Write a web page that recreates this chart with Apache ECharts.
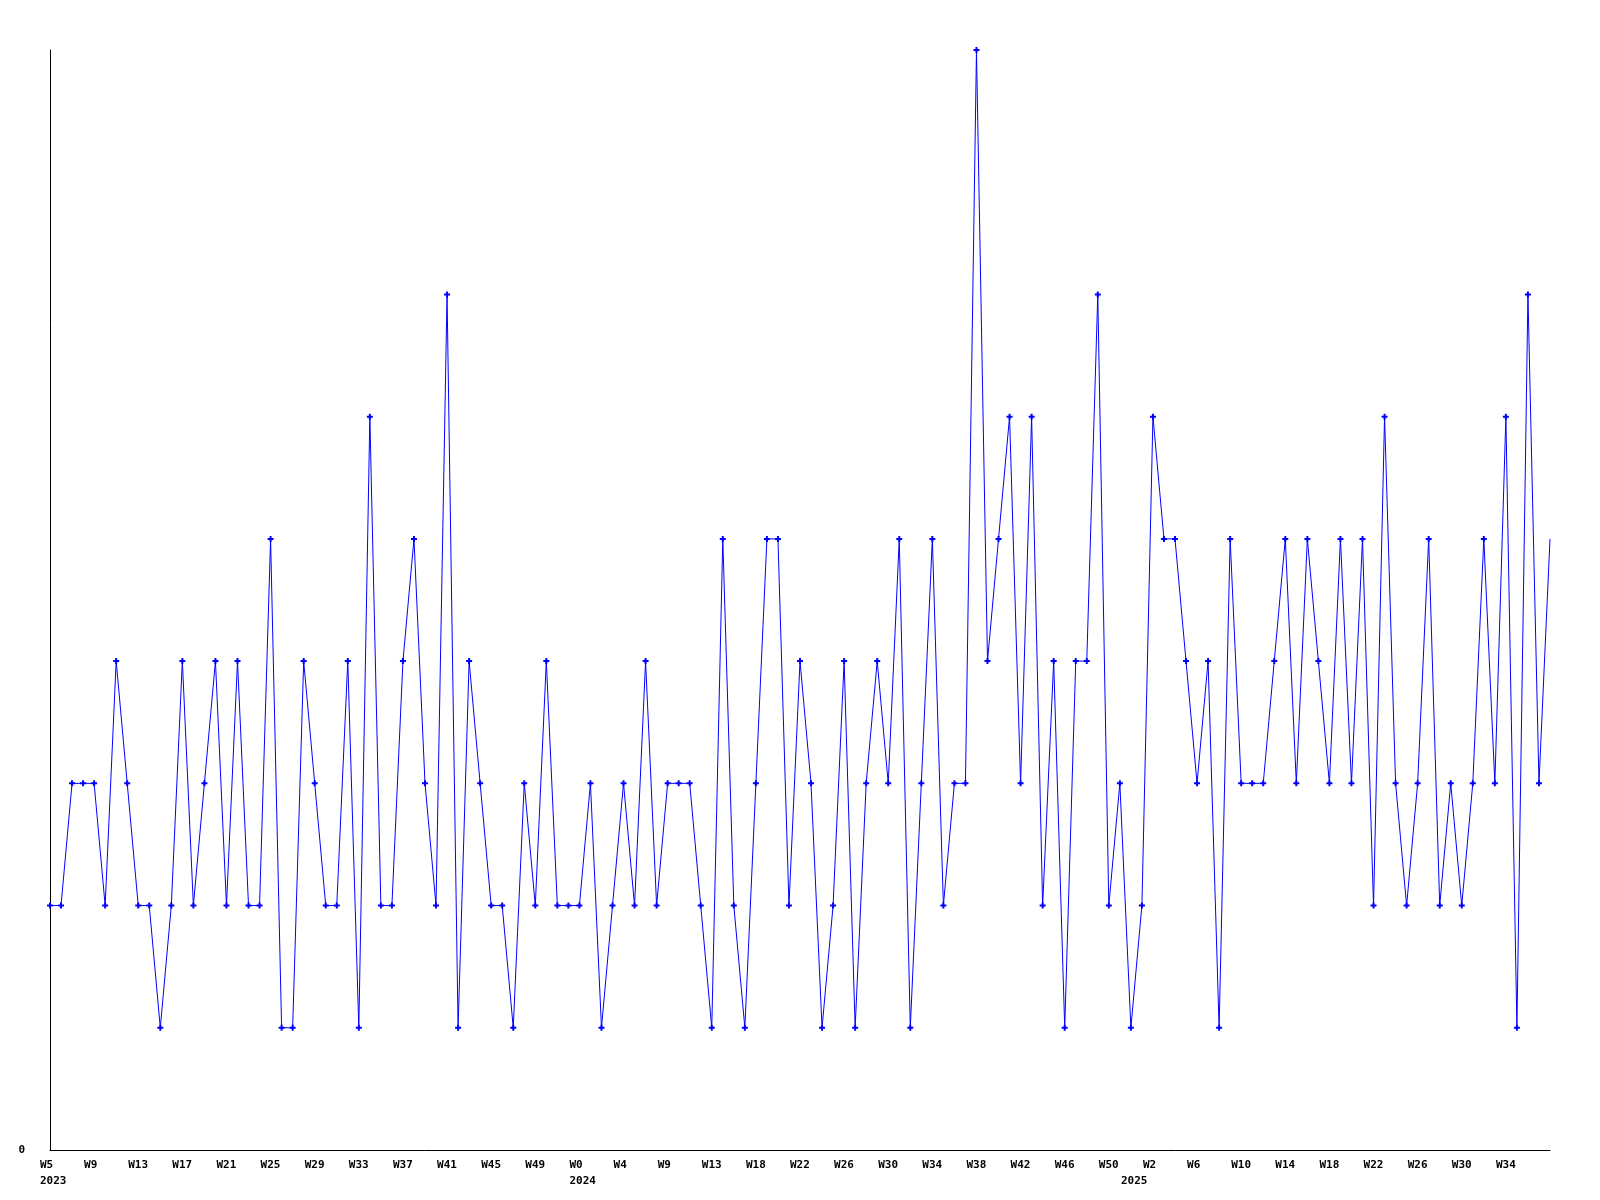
<!DOCTYPE html>
<html>
<head>
<meta charset="utf-8">
<script src="https://cdn.jsdelivr.net/npm/echarts@6/dist/echarts.min.js"></script>
<style>
html,body{margin:0;padding:0;background:#fff;}
#chart{width:1600px;height:1200px;}
</style>
</head>
<body>
<div id="chart"></div>
<script>
// Weekly values, 2023 W5 onward (137 points)
const values = [
  2,2,3,3,3,2,4,3,2,2,
  1,2,4,2,3,4,2,4,2,2,
  5,1,1,4,3,2,2,4,1,6,
  2,2,4,5,3,2,7,1,4,3,
  2,2,1,3,2,4,2,2,2,3,
  1,2,3,2,4,2,3,3,3,2,
  1,5,2,1,3,5,5,2,4,3,
  1,2,4,1,3,4,3,5,1,3,
  5,2,3,3,9,4,5,6,3,6,
  2,4,1,4,4,7,2,3,1,2,
  6,5,5,4,3,4,1,5,3,3,
  3,4,5,3,5,4,3,5,3,5,
  2,6,3,2,3,5,2,3,2,3,
  5,3,6,1,7,3,5
];
// Tick labels shown on every 4th point
const tickLabels = [
  "W5","W9","W13","W17","W21","W25","W29","W33","W37","W41","W45","W49",
  "W0","W4","W9","W13","W18","W22","W26","W30","W34","W38","W42","W46","W50",
  "W2","W6","W10","W14","W18","W22","W26","W30","W34"
];
// Year labels placed at the point where each year starts (point index)
const yearLabels = {0: "2023", 48: "2024", 98: "2025"};
const yMax = 9;

const categories = values.map((_, i) => String(i));
const seriesData = values.map((v, i) => i === values.length - 1 ? {value: v, symbol: 'none'} : v);

const chart = echarts.init(document.getElementById('chart'), null, {renderer: 'canvas'});
const font = '"DejaVu Sans Mono", monospace';
chart.setOption({
  animation: false,
  backgroundColor: '#ffffff',
  grid: {left: 50, right: 50, top: 50, bottom: 50, containLabel: false},
  xAxis: {
    type: 'category',
    data: categories,
    boundaryGap: false,
    axisLine: {show: true, lineStyle: {color: '#000', width: 1}},
    axisTick: {show: false},
    splitLine: {show: false},
    axisLabel: {
      interval: function (idx) { return idx % 4 === 0 || yearLabels[idx] !== undefined; },
      margin: 7,
      align: 'left',
      padding: [0, 0, 0, -10],
      color: '#000',
      fontFamily: font,
      fontWeight: 'bold',
      fontSize: 11,
      lineHeight: 16,
      formatter: function (val, idx) {
        const lab = idx % 4 === 0 ? (tickLabels[idx / 4] || '') : ' ';
        return yearLabels[idx] ? lab + '\n' + yearLabels[idx] : lab;
      }
    }
  },
  yAxis: {
    type: 'value',
    min: 0,
    max: yMax,
    interval: yMax,
    axisLine: {show: true, lineStyle: {color: '#000', width: 1}},
    axisTick: {show: false},
    splitLine: {show: false},
    axisLabel: {
      margin: 25,
      color: '#000',
      fontFamily: font,
      fontWeight: 'bold',
      fontSize: 11,
      formatter: function (v) { return v === 0 ? '0' : ''; }
    }
  },
  series: [{
    type: 'line',
    data: seriesData,
    symbol: 'path://M2,0h2v2h2v2h-2v2h-2v-2h-2v-2h2z',
    symbolSize: 6,
    showAllSymbol: true,
    lineStyle: {color: '#0000ff', width: 1},
    itemStyle: {color: '#0000ff'}
  }]
});
</script>
</body>
</html>
